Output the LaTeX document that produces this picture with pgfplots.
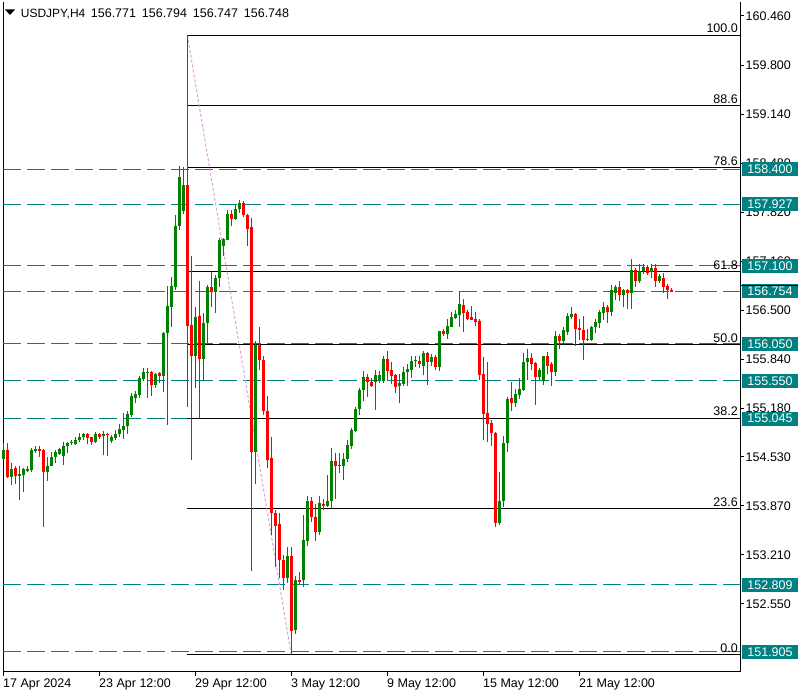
\documentclass[border=0pt]{standalone}
\usepackage{fontspec}
\setmainfont{Liberation Sans}
\usepackage{pgfplots}
\usepackage{pgfplotstable}
\pgfplotsset{compat=1.18}
\definecolor{cgreen}{RGB}{0,128,0}
\definecolor{cred}{RGB}{255,0,0}
\definecolor{cteal}{RGB}{0,128,128}
\definecolor{cplum}{RGB}{221,160,221}

% bullish candles: index open high low close
\pgfplotstableread{
i o h l c
0 154.50 154.71 154.49 154.62
2 154.26 154.45 154.15 154.37
4 154.27 154.40 153.95 154.30
5 154.28 154.38 154.06 154.36
6 154.34 154.40 154.33 154.37
7 154.35 154.65 154.33 154.62
8 154.61 154.68 154.58 154.64
11 154.32 154.53 154.20 154.41
12 154.41 154.60 154.40 154.53
13 154.53 154.62 154.44 154.59
14 154.57 154.65 154.55 154.64
15 154.54 154.73 154.42 154.68
16 154.67 154.73 154.58 154.71
17 154.71 154.76 154.69 154.72
18 154.70 154.79 154.69 154.76
19 154.75 154.85 154.73 154.80
20 154.79 154.85 154.76 154.84
23 154.73 154.86 154.71 154.84
25 154.81 154.88 154.55 154.83
27 154.74 154.82 154.72 154.80
28 154.78 154.89 154.76 154.84
29 154.83 154.97 154.80 154.90
30 154.89 155.12 154.77 154.94
31 154.94 155.14 154.83 155.11
32 155.09 155.39 155.07 155.35
33 155.32 155.42 155.25 155.38
34 155.36 155.62 155.32 155.59
35 155.57 155.73 155.55 155.67
36 155.66 155.73 155.32 155.67
38 155.50 155.66 155.46 155.64
40 155.62 156.21 155.40 156.20
41 156.19 156.83 154.96 156.56
42 156.55 156.95 156.28 156.83
43 156.82 157.78 156.77 157.64
44 157.63 158.44 157.58 158.30
45 157.83 158.43 157.79 158.19
48 155.88 156.55 155.45 156.41
50 155.84 156.46 155.56 156.33
51 156.33 156.84 156.06 156.82
53 156.75 156.98 156.47 156.93
54 156.93 157.48 156.82 157.45
55 157.36 157.48 157.23 157.46
56 157.45 157.85 157.44 157.80
58 157.73 157.93 157.72 157.86
59 157.86 157.99 157.81 157.95
63 154.59 156.09 154.17 156.03
71 152.90 153.32 152.83 153.20
73 152.20 152.92 152.15 152.87
75 152.87 153.75 152.78 153.41
76 153.40 154.00 153.33 153.94
79 153.52 154.00 153.48 153.91
81 153.87 154.29 153.85 153.94
82 153.94 154.65 153.84 154.47
84 154.40 154.58 154.31 154.41
85 154.40 154.58 154.22 154.50
86 154.50 154.76 154.46 154.69
87 154.68 154.92 154.64 154.89
88 154.88 155.20 154.87 155.17
89 155.17 155.45 155.09 155.43
90 155.43 155.69 155.28 155.60
93 155.54 155.70 155.16 155.63
94 155.56 155.68 155.52 155.63
95 155.55 155.88 155.52 155.85
99 155.48 155.65 155.26 155.52
100 155.51 155.74 155.48 155.67
101 155.67 155.78 155.48 155.71
102 155.70 155.89 155.59 155.82
103 155.815 155.88 155.74 155.825
105 155.75 155.95 155.63 155.92
107 155.80 155.91 155.75 155.87
109 155.74 156.225 155.68 156.22
111 156.18 156.39 156.11 156.29
112 156.28 156.48 156.27 156.41
113 156.40 156.50 156.39 156.45
114 156.44 156.76 156.28 156.59
124 153.64 154.32 153.61 153.94
125 153.93 154.81 153.85 154.71
126 154.71 155.34 154.60 155.31
128 155.26 155.44 155.20 155.38
129 155.36 155.59 155.31 155.44
130 155.43 155.93 155.41 155.81
131 155.80 155.98 155.56 155.86
134 155.61 155.72 155.56 155.70
135 155.55 155.885 155.50 155.88
138 155.67 156.22 155.62 156.16
140 156.09 156.28 156.04 156.24
141 156.21 156.47 156.17 156.42
142 156.41 156.54 156.38 156.45
147 156.10 156.29 156.09 156.27
148 156.27 156.38 156.20 156.35
149 156.33 156.50 156.26 156.48
150 156.47 156.61 156.37 156.54
152 156.48 156.84 156.42 156.77
153 156.74 156.84 156.64 156.81
155 156.71 156.79 156.55 156.77
157 156.74 157.19 156.52 157.04
159 156.89 157.13 156.87 157.03
160 157.03 157.13 156.99 157.08
162 157.01 157.12 156.93 157.07
164 156.90 156.99 156.87 156.96
}\up

% bearish candles: index open high low close
\pgfplotstableread{
i o h l c
1 154.62 154.71 154.24 154.26
3 154.38 154.40 154.17 154.27
9 154.64 154.68 154.53 154.61
10 154.62 154.63 153.58 154.32
21 154.84 154.85 154.70 154.78
22 154.79 154.80 154.69 154.73
24 154.84 154.85 154.77 154.80
26 154.83 154.85 154.54 154.82
37 155.67 155.69 155.35 155.50
39 155.66 155.665 155.52 155.62
46 158.19 160.204 155.20 156.29
47 156.30 157.23 154.49 155.88
49 156.43 156.89 155.05 155.84
52 156.82 157.01 156.55 156.75
57 157.80 157.85 157.63 157.73
60 157.95 157.97 157.75 157.78
61 157.78 157.79 157.37 157.60
62 157.62 157.74 152.99 154.60
64 156.03 156.28 155.70 155.83
65 155.83 155.89 155.09 155.14
66 155.15 155.35 154.38 154.49
67 154.52 154.79 153.48 153.77
68 153.77 153.82 153.05 153.60
69 153.63 153.78 152.90 153.14
70 153.14 153.21 152.74 152.90
72 153.20 153.32 151.864 152.19
74 152.87 152.98 152.82 152.85
77 153.94 153.99 153.65 153.72
78 153.72 153.90 153.40 153.52
80 153.90 153.96 153.81 153.87
83 154.47 154.58 153.96 154.40
91 155.60 155.65 155.34 155.53
92 155.54 155.59 155.47 155.48
96 155.85 155.95 155.56 155.69
97 155.70 155.80 155.51 155.62
98 155.63 155.64 155.39 155.47
104 155.82 155.89 155.73 155.78
106 155.92 155.94 155.50 155.80
108 155.87 155.90 155.70 155.74
110 156.22 156.25 156.16 156.18
115 156.57 156.65 156.21 156.47
116 156.48 156.51 156.37 156.39
117 156.41 156.56 156.365 156.37
118 156.38 156.48 156.29 156.35
119 156.36 156.38 155.56 155.63
120 155.64 155.87 154.75 155.11
121 155.12 155.81 154.73 154.97
122 154.98 155.03 154.68 154.85
123 154.85 154.87 153.59 153.64
127 155.32 155.54 155.15 155.26
132 155.86 155.92 155.70 155.78
133 155.79 155.80 155.23 155.61
136 155.88 155.94 155.65 155.75
137 155.78 155.81 155.48 155.67
139 156.16 156.18 155.98 156.09
143 156.45 156.47 156.02 156.25
144 156.26 156.38 156.10 156.23
145 156.24 156.42 155.83 156.10
146 156.11 156.25 156.09 156.10
151 156.54 156.57 156.33 156.48
154 156.81 156.90 156.63 156.71
156 156.77 156.79 156.52 156.74
158 157.04 157.07 156.82 156.89
161 157.08 157.11 156.98 157.00
163 157.07 157.12 156.81 156.90
165 156.93 157.00 156.74 156.82
166 156.83 156.85 156.65 156.77
167 156.771 156.794 156.747 156.748
}\dn

\begin{document}
\fontsize{12.5}{15}\selectfont
\begin{tikzpicture}
\useasboundingbox (-3pt,-24pt) rectangle (801pt,672pt);
\begin{axis}[
  at={(0pt,0pt)}, anchor=south west,
  scale only axis, width=737pt, height=670pt,
  xmin=-0.08, xmax=184.17, ymin=151.635, ymax=160.648,
  axis x line*=bottom, axis y line*=right,
  xtick pos=bottom, ytick pos=right, yticklabel pos=right,
  axis line style={black, line width=1pt, -},
  every tick/.style={black, line width=1pt},
  tick align=outside, major tick length=4pt,
  xtick={0,24,48,72,96,120,144},
  xticklabels={17 Apr 2024, 23 Apr 12:00, 29 Apr 12:00, 3 May 12:00, 9 May 12:00, 15 May 12:00, 21 May 12:00},
  xticklabel style={anchor=north west, inner sep=0pt, xshift=-0.3pt, yshift=-2.5pt},
  ytick={152.55,153.21,153.87,154.53,155.18,155.84,156.50,157.16,157.82,158.48,159.14,159.80,160.46},
  yticklabels={152.550,153.210,153.870,154.530,155.180,155.840,156.500,157.160,157.820,158.480,159.140,159.800,160.460},
  yticklabel style={anchor=west, inner sep=0pt, xshift=1.5pt},
  clip=false,
]
% left border
\draw[black, line width=1pt] (axis cs:-0.08,151.635) -- (axis cs:-0.08,160.648);
% horizontal teal dashed levels
\foreach \lv in {158.400,157.927,157.100,156.754,156.050,155.550,155.045,152.809,151.905}{
  \edef\temp{\noexpand\draw[cteal, line width=1pt, dash pattern=on 17.5pt off 6.5pt] (axis cs:-0.08,\lv) -- (axis cs:184.17,\lv);}
  \temp
}
% fibonacci levels
\foreach \lv/\lb in {160.204/100.0,159.253/88.6,158.419/78.6,157.018/61.8,156.034/50.0,155.050/38.2,153.832/23.6,151.864/0.0}{
  \edef\temp{\noexpand\draw[black, line width=1pt] (axis cs:46,\lv) -- (axis cs:184.17,\lv);
    \noexpand\node[anchor=base east, inner sep=0pt, xshift=-2pt, yshift=2.3pt] at (axis cs:184.17,\lv) {\lb};}
  \temp
}
% fib trend line
\draw[cplum, line width=1pt, dash pattern=on 3pt off 2pt] (axis cs:46,160.204) -- (axis cs:72,151.864);

% wicks
\addplot[draw=none, mark=none, forget plot,
  error bars/.cd, y dir=plus, y explicit, error mark=none,
  error bar style={draw=cgreen, line width=1pt, solid}]
  table[x=i, y=l, y error plus expr={\thisrow{h}-\thisrow{l}}] {\up};
\addplot[draw=none, mark=none, forget plot,
  error bars/.cd, y dir=plus, y explicit, error mark=none,
  error bar style={draw=cred, line width=1pt, solid}]
  table[x=i, y=l, y error plus expr={\thisrow{h}-\thisrow{l}}] {\dn};
% bodies
\addplot[draw=none, mark=none, forget plot,
  error bars/.cd, y dir=plus, y explicit, error mark=none,
  error bar style={draw=cgreen, line width=3pt, solid}]
  table[x=i, y=o, y error plus expr={max(\thisrow{c}-\thisrow{o},0.0135)}] {\up};
\addplot[draw=none, mark=none, forget plot,
  error bars/.cd, y dir=plus, y explicit, error mark=none,
  error bar style={draw=cred, line width=3pt, solid}]
  table[x=i, y=c, y error plus expr={max(\thisrow{o}-\thisrow{c},0.0135)}] {\dn};

% anchors for the price boxes
\coordinate (b1) at (axis cs:184.17,158.400);
\coordinate (b2) at (axis cs:184.17,157.927);
\coordinate (b3) at (axis cs:184.17,157.100);
\coordinate (b4) at (axis cs:184.17,156.754);
\coordinate (b5) at (axis cs:184.17,156.050);
\coordinate (b6) at (axis cs:184.17,155.550);
\coordinate (b7) at (axis cs:184.17,155.045);
\coordinate (b8) at (axis cs:184.17,152.809);
\coordinate (b9) at (axis cs:184.17,151.905);
\end{axis}
% price boxes on the right scale
\foreach \c/\t in {b1/158.400,b2/157.927,b3/157.100,b4/156.754,b5/156.050,b6/155.550,b7/155.045,b8/152.809,b9/151.905}{
  \node[fill=cteal, text=white, anchor=west, inner xsep=5.5pt, inner ysep=0pt, minimum height=14pt] at ([xshift=1.7pt]\c) {\t};
}
\draw[black, line width=1pt] (738pt,386.5pt) -- (795pt,386.5pt);
% title
\fill[black] (2pt,662.5pt) -- (12pt,662.5pt) -- (7pt,657pt) -- cycle;
\node[anchor=base west, inner sep=0pt, font=\fontsize{12}{14}\selectfont] at (17.7pt,654.7pt) {USDJPY,H4};
\node[anchor=base west, inner sep=0pt] at (87.7pt,654.7pt) {156.771};
\node[anchor=base west, inner sep=0pt] at (138.7pt,654.7pt) {156.794};
\node[anchor=base west, inner sep=0pt] at (189.7pt,654.7pt) {156.747};
\node[anchor=base west, inner sep=0pt] at (240.7pt,654.7pt) {156.748};
\end{tikzpicture}
\end{document}
